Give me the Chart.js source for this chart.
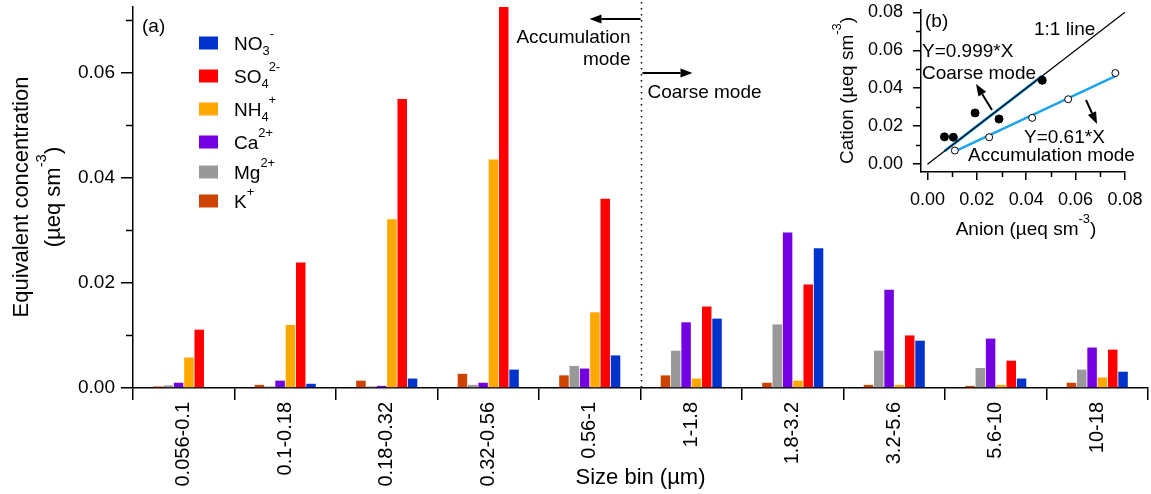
<!DOCTYPE html>
<html>
<head>
<meta charset="utf-8">
<script src="https://cdn.jsdelivr.net/npm/chart.js@4/dist/chart.umd.min.js"></script>
<style>
    html, body { margin: 0; padding: 0; background: #fff; }
    #wrap { position: relative; width: 1151px; height: 494px; }
    #principal { position: absolute; left: 0; top: 0; }
    #inserido { position: absolute; left: 830px; top: 0; }
</style>
</head>
<body>
<div id="wrap">
    <canvas id="principal" width="1151" height="494"></canvas>
    <canvas id="inserido" width="321" height="245"></canvas>
</div>
<script>
// Dados do gráfico (a)
const faixas = ['0.056-0.1', '0.1-0.18', '0.18-0.32', '0.32-0.56', '0.56-1', '1-1.8', '1.8-3.2', '3.2-5.6', '5.6-10', '10-18'];
const potassio = [0.0003, 0.0006, 0.0014, 0.0027, 0.0024, 0.0024, 0.0010, 0.0006, 0.0004, 0.0010];
const magnesio = [0.0005, 0.0003, 0.0003, 0.0006, 0.0042, 0.0071, 0.0121, 0.0071, 0.0038, 0.0035];
const calcio   = [0.0010, 0.0014, 0.0004, 0.0010, 0.0037, 0.0125, 0.0296, 0.0187, 0.0094, 0.0077];
const amonio   = [0.0058, 0.0120, 0.0321, 0.0435, 0.0144, 0.0018, 0.0014, 0.0006, 0.0006, 0.0020];
const sulfato  = [0.0111, 0.0239, 0.0550, 0.0726, 0.0360, 0.0155, 0.0197, 0.0100, 0.0052, 0.0073];
const nitrato  = [0.0000, 0.0008, 0.0018, 0.0035, 0.0062, 0.0132, 0.0266, 0.0090, 0.0018, 0.0031];
const ticksY = [0, 0.02, 0.04, 0.06];
const ticksYMenores = [0.01, 0.03, 0.05, 0.07];

// Dados do gráfico (b)
const anionGrossa = [0.0069, 0.0105, 0.0193, 0.0290, 0.0465];
const cationGrossa = [0.0144, 0.0142, 0.0270, 0.0238, 0.0442];
const anionAcum = [0.0111, 0.0250, 0.0424, 0.0570, 0.0761];
const cationAcum = [0.0072, 0.0142, 0.0244, 0.0342, 0.0480];
const linha11X = [0, 0.08];
const linha11Y = [0, 0.08];
const ajusteGrossaX = [0.0069, 0.0465];
const ajusteGrossaY = [0.0069, 0.0465];
const ajusteAcumX = [0.0111, 0.0761];
const ajusteAcumY = [0.0068, 0.0464];
const ticksB = [0, 0.02, 0.04, 0.06, 0.08];
const ticksBMenores = [0.01, 0.03, 0.05, 0.07];

const FONTE = '"Liberation Sans", Arial, sans-serif';
Chart.defaults.font.family = FONTE;
Chart.defaults.color = '#000';

// Séries na ordem das barras (esquerda para direita)
const series = [
    { dados: potassio, cor: '#CC4400', rotulo: [['K', ''], ['+', 'sup']] },
    { dados: magnesio, cor: '#999999', rotulo: [['Mg', ''], ['2+', 'sup']] },
    { dados: calcio,   cor: '#7300E0', rotulo: [['Ca', ''], ['2+', 'sup']] },
    { dados: amonio,   cor: '#FFA800', rotulo: [['NH', ''], ['4', 'sub'], ['+', 'sup']] },
    { dados: sulfato,  cor: '#FF0000', rotulo: [['SO', ''], ['4', 'sub'], ['2-', 'sup']] },
    { dados: nitrato,  cor: '#0033CC', rotulo: [['NO', ''], ['3', 'sub'], ['-', 'sup']] }
];

// Função para medir texto com índices
function larguraRica(ctx, partes, tam) {
    let w = 0;
    partes.forEach(([t, m]) => {
        ctx.font = (m ? tam * 0.68 : tam) + 'px ' + FONTE;
        w += ctx.measureText(t).width;
    });
    return w;
}

// Função para desenhar texto com subscrito/sobrescrito (y = linha de base)
function textoRico(ctx, partes, x, y, tam, alinhar) {
    const w = larguraRica(ctx, partes, tam);
    let cx = alinhar === 'center' ? x - w / 2 : (alinhar === 'right' ? x - w : x);
    ctx.textAlign = 'left';
    ctx.textBaseline = 'alphabetic';
    ctx.fillStyle = '#000';
    partes.forEach(([t, m]) => {
        ctx.font = (m ? tam * 0.68 : tam) + 'px ' + FONTE;
        const dy = m === 'sub' ? tam * 0.28 : (m === 'sup' ? -tam * 0.62 : 0);
        ctx.fillText(t, cx, y + dy);
        cx += ctx.measureText(t).width;
    });
}

function seta(ctx, x1, y1, x2, y2) {
    const ang = Math.atan2(y2 - y1, x2 - x1);
    const L = 12, H = 4.5;
    ctx.save();
    ctx.strokeStyle = '#000';
    ctx.fillStyle = '#000';
    ctx.lineWidth = 2;
    ctx.beginPath();
    ctx.moveTo(x1, y1);
    ctx.lineTo(x2 - L * Math.cos(ang), y2 - L * Math.sin(ang));
    ctx.stroke();
    ctx.translate(x2, y2);
    ctx.rotate(ang);
    ctx.beginPath();
    ctx.moveTo(0, 0);
    ctx.lineTo(-L, -H);
    ctx.lineTo(-L, H);
    ctx.closePath();
    ctx.fill();
    ctx.restore();
}

// Tira o espaço extra que o Chart.js reserva para os rótulos
function semPadding(s) {
    s.paddingTop = 0;
    s.paddingBottom = 0;
    s.paddingLeft = 0;
    s.paddingRight = 0;
}

// Plugin para os ticks menores
const ticksMenores = {
    id: 'ticksMenores',
    afterDraw(chart, args, opts) {
        const ctx = chart.ctx;
        ctx.save();
        ctx.strokeStyle = '#000';
        ctx.lineWidth = 1.5;
        (opts.y || []).forEach(v => {
            const py = Math.round(chart.scales.y.getPixelForValue(v)) + 0.5;
            const x0 = chart.scales.y.right;
            ctx.beginPath();
            ctx.moveTo(x0 - opts.comp, py);
            ctx.lineTo(x0, py);
            ctx.stroke();
        });
        (opts.x || []).forEach(v => {
            const px = Math.round(chart.scales.x.getPixelForValue(v)) + 0.5;
            const y0 = chart.scales.x.top;
            ctx.beginPath();
            ctx.moveTo(px, y0);
            ctx.lineTo(px, y0 + opts.comp);
            ctx.stroke();
        });
        ctx.restore();
    }
};

// Plugin com legenda, títulos e anotações do gráfico (a)
const anotacoesA = {
    id: 'anotacoesA',
    afterDraw(chart) {
        const ctx = chart.ctx;
        const area = chart.chartArea;
        const xs = chart.scales.x;
        ctx.save();

        textoRico(ctx, [['(a)', '']], area.left + 9, 32, 19, 'left');

        // legenda (de cima para baixo: NO3, SO4, NH4, Ca, Mg, K)
        const linhas = [43, 76, 109, 142, 172, 201];
        series.slice().reverse().forEach((s, i) => {
            ctx.fillStyle = s.cor;
            ctx.fillRect(199, linhas[i] - 6.5, 19, 13);
            textoRico(ctx, s.rotulo, 234, linhas[i] + 7, 19, 'left');
        });

        // título do eixo y
        ctx.save();
        ctx.translate(28, 197);
        ctx.rotate(-Math.PI / 2);
        textoRico(ctx, [['Equivalent concentration', '']], 0, 0, 22, 'center');
        ctx.restore();
        ctx.save();
        ctx.translate(60, 197);
        ctx.rotate(-Math.PI / 2);
        textoRico(ctx, [['(µeq sm', ''], ['-3', 'sup'], [')', '']], 0, 0, 22, 'center');
        ctx.restore();

        // linha pontilhada entre os modos
        const xd = Math.round((xs.getPixelForValue(4) + xs.getPixelForValue(5)) / 2) + 0.5;
        ctx.strokeStyle = '#000';
        ctx.lineWidth = 1.5;
        ctx.setLineDash([1.5, 4.5]);
        ctx.beginPath();
        ctx.moveTo(xd, 2);
        ctx.lineTo(xd, area.bottom);
        ctx.stroke();
        ctx.setLineDash([]);

        seta(ctx, xd - 1, 19, xd - 52, 19);
        textoRico(ctx, [['Accumulation', '']], xd - 11, 43, 19, 'right');
        textoRico(ctx, [['mode', '']], xd - 11, 65, 19, 'right');
        seta(ctx, xd + 1, 73, xd + 51, 73);
        textoRico(ctx, [['Coarse mode', '']], xd + 6, 98, 19, 'left');

        ctx.restore();
    }
};

// Plugin com títulos e anotações do gráfico (b)
const anotacoesB = {
    id: 'anotacoesB',
    afterDraw(chart) {
        const ctx = chart.ctx;
        ctx.save();
        textoRico(ctx, [['(b)', '']], 95, 27, 19, 'left');
        textoRico(ctx, [['1:1 line', '']], 204, 35, 19, 'left');
        textoRico(ctx, [['Y=0.999*X', '']], 92, 57, 19, 'left');
        textoRico(ctx, [['Coarse mode', '']], 92, 79, 19, 'left');
        seta(ctx, 162, 110, 146, 84);
        textoRico(ctx, [['Y=0.61*X', '']], 194, 143, 19, 'left');
        textoRico(ctx, [['Accumulation mode', '']], 138, 161, 19, 'left');
        seta(ctx, 256, 100, 267, 124);

        textoRico(ctx, [['Anion (µeq sm', ''], ['-3', 'sup'], [')', '']], 196, 235, 19, 'center');
        ctx.save();
        ctx.translate(23, 164);
        ctx.rotate(-Math.PI / 2);
        textoRico(ctx, [['Cation (µeq sm', ''], ['-3', 'sup'], [')', '']], 0, 0, 19, 'left');
        ctx.restore();
        ctx.restore();
    }
};

// Gráfico (a): barras por faixa de tamanho
new Chart(document.getElementById('principal'), {
    type: 'bar',
    data: {
        labels: faixas,
        datasets: series.map(s => ({
            data: s.dados,
            backgroundColor: s.cor,
            borderWidth: 0,
            categoryPercentage: 0.61,
            barPercentage: 0.92
        }))
    },
    options: {
        responsive: false,
        animation: false,
        devicePixelRatio: 1,
        layout: { padding: { top: 7, right: 3, left: 0, bottom: 0 } },
        plugins: {
            legend: { display: false },
            tooltip: { enabled: false },
            ticksMenores: { y: ticksYMenores, comp: 7 }
        },
        scales: {
            x: {
                offset: true,
                grid: { display: true, drawOnChartArea: false, offset: true, tickLength: 12, color: '#000', lineWidth: 1.5 },
                border: { color: '#000', width: 1.5 },
                ticks: { color: '#000', font: { size: 20 }, minRotation: 90, maxRotation: 90, autoSkip: false, padding: 2 },
                title: { display: true, text: 'Size bin (µm)', color: '#000', font: { size: 22 }, padding: { top: 0, bottom: 3 } },
                afterFit: s => { s.height = 106; semPadding(s); }
            },
            y: {
                min: 0,
                max: 0.0725,
                afterBuildTicks: s => { s.ticks = ticksY.map(v => ({ value: v })); },
                grid: { display: true, drawOnChartArea: false, tickLength: 12, color: '#000', lineWidth: 1.5 },
                border: { color: '#000', width: 1.5 },
                ticks: { color: '#000', font: { size: 19 }, padding: 6, callback: v => v.toFixed(2) },
                afterFit: s => { s.width = 133; semPadding(s); }
            }
        }
    },
    plugins: [ticksMenores, anotacoesA]
});

// Gráfico (b): cátions x ânions
const pontos = (xs, ys) => xs.map((x, i) => ({ x: x, y: ys[i] }));
new Chart(document.getElementById('inserido'), {
    type: 'scatter',
    data: {
        datasets: [
            { data: pontos(anionGrossa, cationGrossa), pointRadius: 4, backgroundColor: '#000', borderColor: '#000', borderWidth: 1, order: 0 },
            { data: pontos(anionAcum, cationAcum), pointRadius: 3.5, backgroundColor: '#fff', borderColor: '#000', borderWidth: 1, order: 0 },
            { data: pontos(linha11X, linha11Y), showLine: true, borderColor: '#000', borderWidth: 1.3, pointRadius: 0, order: 1 },
            { data: pontos(ajusteGrossaX, ajusteGrossaY), showLine: true, borderColor: '#1CA3EC', borderWidth: 3, pointRadius: 0, order: 2 },
            { data: pontos(ajusteAcumX, ajusteAcumY), showLine: true, borderColor: '#1CA3EC', borderWidth: 2.5, pointRadius: 0, order: 2 }
        ]
    },
    options: {
        responsive: false,
        animation: false,
        devicePixelRatio: 1,
        layout: { padding: { top: 10, right: 26, left: 0, bottom: 0 } },
        plugins: {
            legend: { display: false },
            tooltip: { enabled: false },
            ticksMenores: { y: ticksBMenores, x: ticksBMenores, comp: 5 }
        },
        scales: {
            x: {
                type: 'linear',
                min: -0.0026,
                max: 0.08,
                afterBuildTicks: s => { s.ticks = ticksB.map(v => ({ value: v })); },
                grid: { display: true, drawOnChartArea: false, tickLength: 8, color: '#000', lineWidth: 1.5 },
                border: { color: '#000', width: 1.5 },
                ticks: { color: '#000', font: { size: 18 }, padding: 9, maxRotation: 0, callback: v => v.toFixed(2) },
                afterFit: s => { s.height = 73; semPadding(s); }
            },
            y: {
                min: -0.0041,
                max: 0.0812,
                afterBuildTicks: s => { s.ticks = ticksB.map(v => ({ value: v })); },
                grid: { display: true, drawOnChartArea: false, tickLength: 8, color: '#000', lineWidth: 1.5 },
                border: { color: '#000', width: 1.5 },
                ticks: { color: '#000', font: { size: 18 }, padding: 10, callback: v => v.toFixed(2) },
                afterFit: s => { s.width = 91; semPadding(s); }
            }
        }
    },
    plugins: [ticksMenores, anotacoesB]
});
</script>
</body>
</html>
